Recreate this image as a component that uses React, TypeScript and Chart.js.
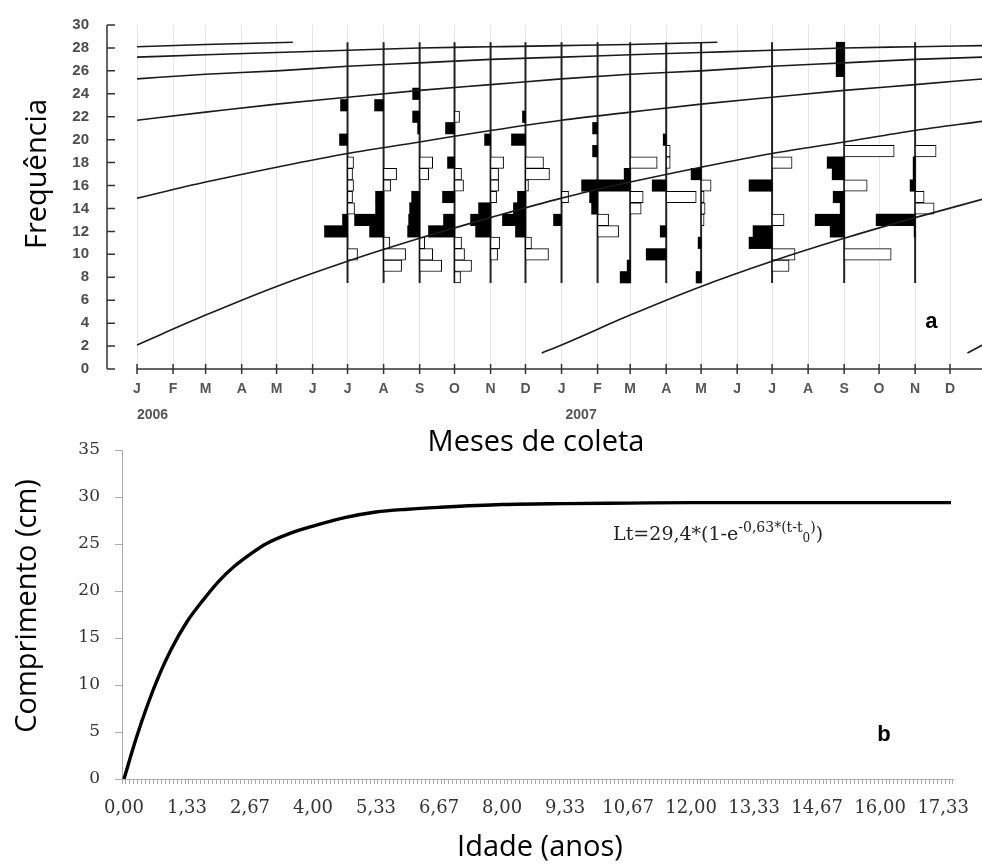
import React, { useEffect, useRef } from 'react';
import { Chart, registerables } from 'chart.js';

Chart.register(...registerables);

// ---------------- Panel a : length-frequency (ELEFAN) ----------------
const MONTH_LETTERS = ['J', 'F', 'M', 'A', 'M', 'J', 'J', 'A', 'S', 'O', 'N', 'D', 'J', 'F', 'M', 'A', 'M', 'J', 'J', 'A', 'S', 'O', 'N', 'D'];
// day index (from 1 Jan 2006) of the first day of each month
const MONTH_START_DAYS = [0, 31, 59, 90, 120, 151, 181, 212, 243, 273, 304, 334, 365, 396, 424, 455, 485, 516, 546, 577, 608, 638, 669, 699];
const YEAR_LABELS = ['2006', '2007'];
const YEAR_START_DAYS = [0, 365];
const FREQ_TICKS = [0, 2, 4, 6, 8, 10, 12, 14, 16, 18, 20, 22, 24, 26, 28, 30];

// sampling months (day index)
const SAMPLE_DAYS = [181, 212, 243, 273, 304, 334, 365, 396, 424, 455, 485, 546, 608, 669];
// length class range covered by each sample histogram
const CLASS_RANGE = [7.5, 28.5];
// restructured scores per length class [class (cm), score]; negative = peak (black, left), positive = trough (white, right)
const SAMPLE_SCORES: [number, number][][] = [
  [[23, -7], [20, -8], [18, 6], [17, 5], [16, 6], [15, 5], [14, 7], [13, -5], [12, -23], [10, 10]],
  [[23, -9], [17, 13], [16, 7], [15, -8], [14, -8], [13, -29], [12, -14], [11, 6], [10, 22], [9, 18]],
  [[24, -7], [22, -7], [21, -2], [18, 13], [17, 9], [15, -8], [14, -10], [13, -11], [12, -12], [11, 5], [10, 13], [9, 22]],
  [[22, 5], [21, -9], [18, -7], [17, 7], [16, 9], [15, -12], [13, -11], [12, -26], [11, 7], [10, 10], [9, 17], [8, 6]],
  [[20, -6], [18, 13], [17, 8], [16, 8], [15, 6], [14, -12], [13, -20], [12, -15], [11, 9], [10, 7]],
  [[22, -3], [20, -14], [18, 18], [17, 24], [16, 3], [15, -8], [14, -12], [13, -23], [12, -10], [11, 6], [10, 23]],
  [[15, 7], [13, -8]],
  [[21, -5], [19, -5], [16, -16], [15, -8], [14, -6], [13, 11], [12, 21]],
  [[18, 27], [17, -6], [16, -34], [15, 13], [14, 11], [9, -3], [8, -10]],
  [[20, -3], [19, 4], [18, 4], [16, -14], [15, 30], [12, -6], [10, -20]],
  [[17, -10], [16, 10], [15, 3], [14, 4], [13, 3], [11, -3], [8, -5]],
  [[18, 20], [16, -23], [13, 12], [12, -19], [11, -23], [10, 23], [9, 17]],
  [[28, -8], [27, -8], [26, -8], [19, 50], [18, -17], [17, -12], [16, 23], [15, -11], [14, -4], [13, -29], [12, -14], [10, 47]],
  [[19, 21], [18, -2], [17, -2], [16, -5], [15, 9], [14, 19], [13, -39], [12, -1]],
];
// score units -> days on the time axis
const SCORE_TO_DAYS = 0.86;

// growth curves of successive cohorts: [day, length cm]
const COHORT_1: [number, number][] = [[0, 28.1], [59, 28.3], [134, 28.5]];
const COHORT_2: [number, number][] = [[0, 27.2], [59, 27.4], [120, 27.6], [181, 27.8], [243, 28.0], [304, 28.1], [365, 28.2], [424, 28.3], [499, 28.5]];
const COHORT_3: [number, number][] = [[0, 25.3], [59, 25.7], [120, 26.0], [181, 26.4], [243, 26.7], [304, 27.0], [365, 27.2], [424, 27.4], [485, 27.6], [546, 27.8], [608, 28.0], [669, 28.1], [727, 28.2]];
const COHORT_4: [number, number][] = [[0, 21.7], [59, 22.4], [120, 23.1], [181, 23.7], [243, 24.3], [304, 24.8], [365, 25.3], [424, 25.7], [485, 26.0], [546, 26.4], [608, 26.7], [669, 27.0], [727, 27.2]];
const COHORT_5: [number, number][] = [[0, 14.9], [59, 16.3], [120, 17.6], [181, 18.8], [243, 19.8], [304, 20.8], [365, 21.7], [424, 22.4], [485, 23.1], [546, 23.7], [608, 24.3], [669, 24.8], [727, 25.3]];
const COHORT_6: [number, number][] = [[0, 2.1], [59, 4.7], [120, 7.2], [181, 9.4], [243, 11.4], [304, 13.2], [365, 14.9], [424, 16.3], [485, 17.6], [546, 18.8], [608, 19.8], [669, 20.8], [727, 21.6]];
const COHORT_7: [number, number][] = [[348, 1.4], [365, 2.1], [424, 4.7], [485, 7.2], [546, 9.4], [608, 11.4], [669, 13.2], [727, 14.8]];
const COHORT_8: [number, number][] = [[714, 1.4], [727, 2.1]];
const COHORTS = [COHORT_1, COHORT_2, COHORT_3, COHORT_4, COHORT_5, COHORT_6, COHORT_7, COHORT_8];

// ---------------- Panel b : von Bertalanffy growth curve ----------------
const AGE_YEARS = [0, 0.25, 0.5, 0.75, 1, 1.33, 1.67, 2, 2.33, 2.67, 3, 3.5, 4, 4.67, 5.33, 6, 6.67, 8, 9.33, 10.67, 12, 14.67, 17.5];
const LENGTH_CM = [0, 4.2, 7.9, 11.1, 13.8, 16.7, 19.0, 21.0, 22.6, 23.9, 25.0, 26.1, 26.9, 27.8, 28.4, 28.7, 28.9, 29.2, 29.3, 29.35, 29.4, 29.4, 29.4];
const AGE_TICK_LABELS = ['0,00', '1,33', '2,67', '4,00', '5,33', '6,67', '8,00', '9,33', '10,67', '12,00', '13,33', '14,67', '16,00', '17,33'];
const MONTHS_PER_LABEL = 16;
const LAST_MONTH = 210;
const LENGTH_TICK_STEP = 5;
const LENGTH_MAX = 35;

const SANS = '"Liberation Sans", Arial, sans-serif';
const SERIF = '"DejaVu Serif", serif';
const TITLE = '"Open Sans", "Noto Sans", sans-serif';

function makeTopConfig(): any {
  const black: any[] = [];
  const white: any[] = [];
  SAMPLE_DAYS.forEach((day, i) => {
    SAMPLE_SCORES[i].forEach(([cls, s]) => {
      const w = Math.abs(s) * SCORE_TO_DAYS;
      if (s < 0) black.push({ y: cls, x: [day - w, day] });
      else white.push({ y: cls, x: [day, day + w] });
    });
  });

  const curveSets = COHORTS.map((c) => ({
    type: 'line',
    data: c.map(([x, y]) => ({ x, y })),
    borderColor: '#1a1a1a',
    borderWidth: 1.6,
    pointRadius: 0,
    cubicInterpolationMode: 'monotone',
    fill: false,
  }));
  const baseSets = SAMPLE_DAYS.map((d) => ({
    type: 'line',
    data: [{ x: d, y: CLASS_RANGE[0] }, { x: d, y: CLASS_RANGE[1] }],
    borderColor: '#222',
    borderWidth: 2,
    pointRadius: 0,
    fill: false,
  }));

  const decor = {
    id: 'decorA',
    afterDraw(chart: any) {
      const ctx = chart.ctx;
      const xs = chart.scales.x;
      const ys = chart.scales.y;
      const { left, right, bottom } = chart.chartArea;
      ctx.save();
      ctx.strokeStyle = '#333';
      ctx.lineWidth = 1.5;
      ctx.beginPath();
      ctx.moveTo(left, ys.getPixelForValue(FREQ_TICKS[FREQ_TICKS.length - 1]));
      ctx.lineTo(left, ys.getPixelForValue(0));
      FREQ_TICKS.forEach((v) => {
        const y = ys.getPixelForValue(v);
        ctx.moveTo(left, y);
        ctx.lineTo(left + 8, y);
      });
      ctx.moveTo(xs.getPixelForValue(MONTH_START_DAYS[0]), bottom);
      ctx.lineTo(right, bottom);
      MONTH_START_DAYS.forEach((d) => {
        const x = xs.getPixelForValue(d);
        ctx.moveTo(x, bottom - 5);
        ctx.lineTo(x, bottom + 5);
      });
      ctx.stroke();

      ctx.fillStyle = '#555';
      ctx.font = `bold 14px ${SANS}`;
      ctx.textAlign = 'left';
      ctx.textBaseline = 'middle';
      YEAR_LABELS.forEach((t, i) => {
        ctx.fillText(t, xs.getPixelForValue(YEAR_START_DAYS[i]) + (i === 0 ? 0 : 4), bottom + 46);
      });

      ctx.fillStyle = '#000';
      ctx.font = `bold 22px ${SANS}`;
      ctx.textAlign = 'center';
      ctx.fillText('a', xs.getPixelForValue(683), ys.getPixelForValue(4.1));

      ctx.font = `29px ${TITLE}`;
      ctx.fillText('Meses de coleta', 536, 443);
      ctx.translate(38, 174);
      ctx.rotate(-Math.PI / 2);
      ctx.fillText('Frequência', 0, 0);
      ctx.restore();
    },
  };

  return {
    type: 'line',
    data: {
      datasets: [
        ...curveSets,
        {
          type: 'bar',
          indexAxis: 'y',
          data: white,
          backgroundColor: '#fff',
          borderColor: '#000',
          borderWidth: 1,
          borderSkipped: false,
          barPercentage: 1,
          categoryPercentage: 1,
          grouped: false,
        },
        {
          type: 'bar',
          indexAxis: 'y',
          data: black,
          backgroundColor: '#000',
          borderColor: '#000',
          borderWidth: 0,
          barPercentage: 1,
          categoryPercentage: 1,
          grouped: false,
        },
        ...baseSets,
      ],
    },
    options: {
      animation: false,
      responsive: false,
      devicePixelRatio: 1,
      events: [],
      layout: { padding: { top: 25, right: 0, left: 0, bottom: 0 } },
      plugins: { legend: { display: false }, tooltip: { enabled: false } },
      scales: {
        x: {
          type: 'linear',
          min: -25.8,
          max: 726.5,
          offset: false,
          afterBuildTicks: (s: any) => {
            s.ticks = MONTH_START_DAYS.map((v) => ({ value: v }));
          },
          afterFit: (s: any) => {
            s.height = 91;
            s.paddingLeft = 0;
            s.paddingRight = 0;
          },
          ticks: {
            autoSkip: false,
            maxRotation: 0,
            minRotation: 0,
            padding: 12,
            color: '#555',
            font: { family: SANS, size: 14, weight: 'bold' },
            callback: (_v: any, i: number) => MONTH_LETTERS[i],
          },
          grid: { display: true, drawOnChartArea: true, drawTicks: false, color: '#e6e6e6', lineWidth: 1 },
          border: { display: false },
        },
        y: {
          type: 'linear',
          min: 0,
          max: 30,
          offset: false,
          afterFit: (s: any) => {
            s.width = 107;
            s.paddingTop = 0;
            s.paddingBottom = 0;
          },
          ticks: {
            stepSize: 2,
            padding: 10,
            color: '#4d4d4d',
            font: { family: SANS, size: 15, weight: 'bold' },
          },
          grid: { display: false, offset: false },
          border: { display: false },
        },
      },
    },
    plugins: [decor],
  };
}

function makeBottomConfig(): any {
  const decor = {
    id: 'decorB',
    afterDraw(chart: any) {
      const ctx = chart.ctx;
      const xs = chart.scales.x;
      const ys = chart.scales.y;
      ctx.save();
      // formula
      let x = xs.getPixelForValue(10.35);
      const y = ys.getPixelForValue(25.4);
      ctx.fillStyle = '#222';
      ctx.textAlign = 'left';
      ctx.textBaseline = 'alphabetic';
      const part = (t: string, size: number, dy: number) => {
        ctx.font = `${size}px ${SERIF}`;
        ctx.fillText(t, x, y + dy);
        x += ctx.measureText(t).width;
      };
      part('Lt=29,4*(1-e', 19, 0);
      part('-0,63*(t-t', 14, -8);
      part('0', 12, 2);
      part(')', 14, -8);
      part(')', 19, 0);

      ctx.fillStyle = '#000';
      ctx.font = `bold 22px ${SANS}`;
      ctx.textAlign = 'center';
      ctx.textBaseline = 'middle';
      ctx.fillText('b', xs.getPixelForValue(16.08), ys.getPixelForValue(4.7));

      ctx.font = `29px ${TITLE}`;
      ctx.fillText('Idade (anos)', 540, 408);
      ctx.translate(28, 166);
      ctx.rotate(-Math.PI / 2);
      ctx.fillText('Comprimento (cm)', 0, 0);
      ctx.restore();
    },
  };

  return {
    type: 'line',
    data: {
      datasets: [
        {
          data: AGE_YEARS.map((a, i) => ({ x: a, y: LENGTH_CM[i] })),
          borderColor: '#000',
          borderWidth: 3.4,
          pointRadius: 0,
          cubicInterpolationMode: 'monotone',
          fill: false,
        },
      ],
    },
    options: {
      animation: false,
      responsive: false,
      devicePixelRatio: 1,
      events: [],
      layout: { padding: { top: 10, right: 29, left: 0, bottom: 0 } },
      plugins: { legend: { display: false }, tooltip: { enabled: false } },
      scales: {
        x: {
          type: 'linear',
          min: -0.5 / 12,
          max: (LAST_MONTH + 0.5) / 12,
          afterBuildTicks: (s: any) => {
            const t: any[] = [];
            for (let m = 0; m <= LAST_MONTH; m++) t.push({ value: m / 12 });
            s.ticks = t;
          },
          afterFit: (s: any) => {
            s.height = 89;
            s.paddingLeft = 0;
            s.paddingRight = 0;
          },
          ticks: {
            autoSkip: false,
            maxRotation: 0,
            minRotation: 0,
            padding: 14,
            color: '#333',
            font: { family: SERIF, size: 18 },
            callback: (_v: any, i: number) => (i % MONTHS_PER_LABEL === 0 ? AGE_TICK_LABELS[i / MONTHS_PER_LABEL] : ''),
          },
          grid: { display: true, drawOnChartArea: false, drawTicks: true, tickLength: 5, color: '#aaa', offset: true },
          border: { display: true, color: '#aaa', width: 1 },
        },
        y: {
          type: 'linear',
          min: 0,
          max: LENGTH_MAX,
          afterFit: (s: any) => {
            s.width = 122;
            s.paddingTop = 0;
            s.paddingBottom = 0;
          },
          ticks: {
            stepSize: LENGTH_TICK_STEP,
            padding: 15,
            color: '#333',
            font: { family: SERIF, size: 17 },
          },
          grid: { display: true, drawOnChartArea: false, drawTicks: true, tickLength: 7, color: '#aaa' },
          border: { display: true, color: '#aaa', width: 1 },
        },
      },
    },
    plugins: [decor],
  };
}

export default function App() {
  const topRef = useRef<HTMLCanvasElement>(null);
  const botRef = useRef<HTMLCanvasElement>(null);
  useEffect(() => {
    const c1 = new Chart(topRef.current as HTMLCanvasElement, makeTopConfig());
    const c2 = new Chart(botRef.current as HTMLCanvasElement, makeBottomConfig());
    return () => {
      c1.destroy();
      c2.destroy();
    };
  }, []);
  return (
    <div style={{ position: 'absolute', left: 0, top: 0, width: 982, height: 868, background: '#fff', overflow: 'hidden' }}>
      <canvas ref={topRef} width={982} height={460} style={{ position: 'absolute', left: 0, top: 0 }} />
      <canvas ref={botRef} width={982} height={428} style={{ position: 'absolute', left: 0, top: 440 }} />
    </div>
  );
}
